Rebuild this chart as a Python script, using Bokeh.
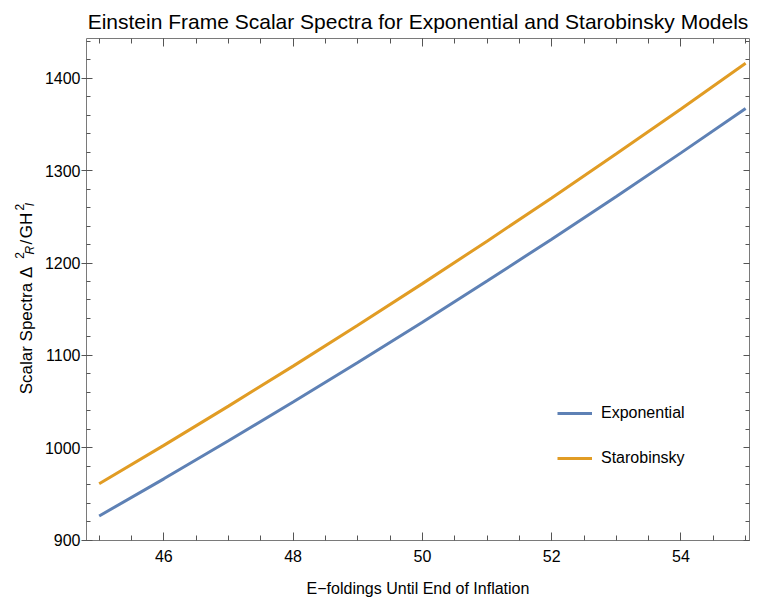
import math
from bokeh.plotting import figure
from bokeh.layouts import row
from bokeh.core.properties import value
from bokeh.models import (LinearAxis, SingleIntervalTicker, Range1d,
                          CustomJSTickFormatter)
from bokeh.embed import file_html
from bokeh.resources import INLINE

# ---- data ----
efolds = [45, 46, 47, 48, 49, 50, 51, 52, 53, 54, 55]
exponential = [926.4, 966.6, 1007.7, 1049.6, 1092.4, 1136.0, 1180.5, 1225.8, 1272.0, 1319.1, 1367.0]
starobinsky = [961.3, 1002.8, 1045.2, 1088.5, 1132.7, 1177.7, 1223.6, 1270.4, 1318.1, 1366.6, 1416.0]
series_names = ["Exponential", "Starobinsky"]
title_text = "Einstein Frame Scalar Spectra for Exponential and Starobinsky Models"
x_label = "E\u2212foldings Until End of Inflation"

FONT = "Liberation Sans"
BLUE = "#5E81B5"
ORANGE = "#E19C24"
FRAME = "#7a7a7a"

# layout
LABW = 40           # width of the strip holding the y-axis label
LEFT, TOP, FW, FH = 86, 38, 663, 502
TOTAL_H = 596
X0, X1 = 44.804, 55.06
Y0, Y1 = 899.9, 1442.8

p = figure(frame_width=FW, frame_height=FH,
           x_range=Range1d(X0, X1), y_range=Range1d(Y0, Y1),
           output_backend="svg", toolbar_location=None,
           min_border_left=LEFT - LABW, min_border_right=1, min_border_top=TOP,
           min_border_bottom=TOTAL_H - TOP - FH)

p.line(efolds, exponential, line_color=BLUE, line_width=3, legend_label=series_names[0])
p.line(efolds, starobinsky, line_color=ORANGE, line_width=3, legend_label=series_names[1])

p.grid.visible = False
p.outline_line_color = None
p.background_fill_color = "white"

xt = SingleIntervalTicker(interval=2, num_minor_ticks=4)
yt = SingleIntervalTicker(interval=100, num_minor_ticks=5)

def style(ax, ticker, tin, tout, min_in):
    ax.ticker = ticker
    ax.axis_line_color = FRAME
    ax.axis_line_width = 1
    ax.major_tick_line_color = "#555555"
    ax.minor_tick_line_color = "#555555"
    ax.major_tick_in = tin
    ax.major_tick_out = tout
    ax.minor_tick_in = min_in
    ax.minor_tick_out = 0
    ax.major_label_text_font = FONT
    ax.major_label_text_font_size = "16px"
    ax.major_label_text_color = "black"

xa = p.xaxis[0]
style(xa, xt, 8, 0, 5)
xa.major_label_standoff = 9
xa.axis_label = x_label
xa.axis_label_text_font = FONT
xa.axis_label_text_font_size = "16px"
xa.axis_label_text_font_style = "normal"
xa.axis_label_text_color = "black"
xa.axis_label_standoff = 15

ya = p.yaxis[0]
style(ya, yt, 6, 5, 4)
ya.major_label_standoff = 1

top = LinearAxis(formatter=CustomJSTickFormatter(code="return ''"), major_label_standoff=0)
style(top, xt, 8, 0, 5)
p.add_layout(top, "above")
right = LinearAxis(formatter=CustomJSTickFormatter(code="return ''"), major_label_standoff=0)
style(right, yt, 6, 0, 4)
p.add_layout(right, "right")

p.title.text = title_text
p.title.align = "center"
p.title.text_font = FONT
p.title.text_font_size = "21px"
p.title.text_font_style = "normal"
p.title.text_color = "black"
p.title.standoff = 12

lg = p.legend[0]
lg.location = (471, 72)
lg.padding = 0
lg.margin = 0
lg.border_line_color = None
lg.background_fill_alpha = 0
lg.glyph_width = 35
lg.glyph_height = 20
lg.label_height = 20
lg.spacing = 25
lg.label_standoff = 9
lg.label_text_font = FONT
lg.label_text_font_size = "16px"
lg.label_text_color = "black"

# ---- strip on the left that carries the rotated y-axis label ----
lab = figure(width=LABW, height=TOTAL_H, x_range=Range1d(0, LABW), y_range=Range1d(0, TOTAL_H),
             output_backend="svg", toolbar_location=None,
             x_axis_location=None, y_axis_location=None,
             min_border=0, outline_line_color=None)
lab.grid.visible = False

def ylab(text, px, py, size, style="normal"):
    lab.text(x=[px], y=[TOTAL_H - py], text=[text], angle=math.pi / 2,
             text_align="left", text_baseline="alphabetic",
             text_font=value(FONT), text_font_size=value(size),
             text_font_style=style, text_color="black")

ylab("Scalar Spectra \u0394", 25.5, 425, "17px")
ylab("2", 19, 263, "12px")
ylab("R", 29.5, 258, "12px", "italic")
ylab("/", 25.5, 246, "17px")
ylab("GH", 25.5, 238.5, "17px")
ylab("2", 19, 205.5, "12px")
ylab("I", 29.5, 200.5, "12px", "italic")

layout = row(lab, p, spacing=0)
open("out.html", "w").write(file_html(layout, INLINE))
